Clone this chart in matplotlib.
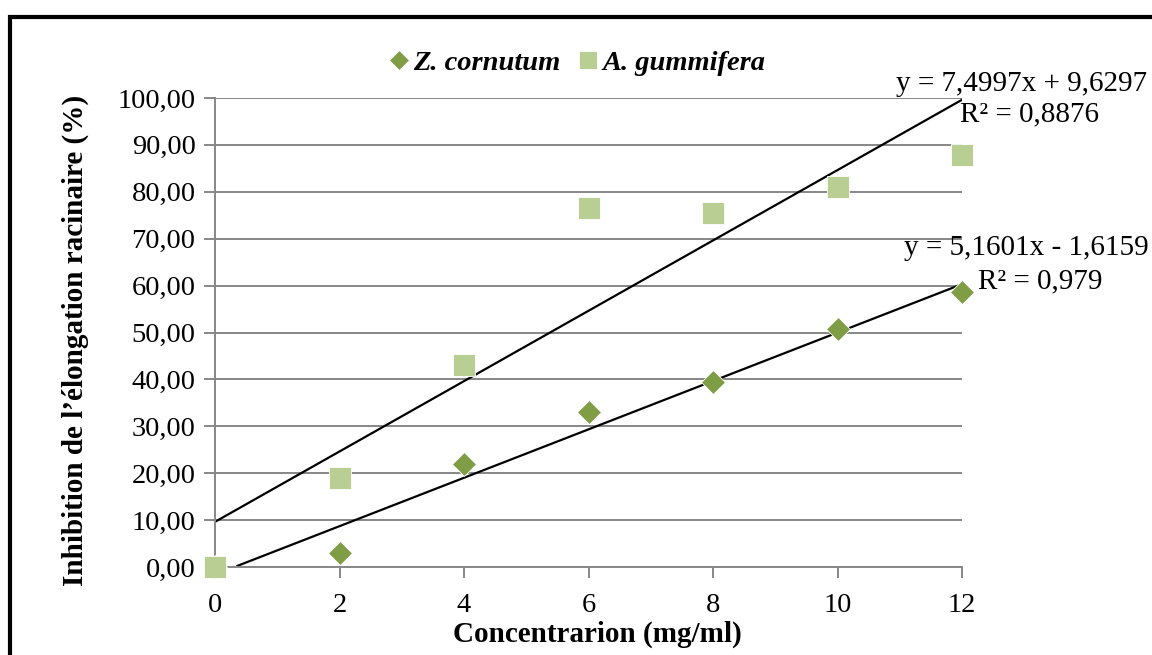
import matplotlib
matplotlib.use("Agg")
import matplotlib.pyplot as plt
from matplotlib.patches import Rectangle
import numpy as np

plt.rcParams['font.family'] = ['Liberation Serif', 'DejaVu Serif']

concentration = [0, 2, 4, 6, 8, 10, 12]
z_cornutum = [0.0, 3.0, 22.0, 33.0, 39.4, 50.7, 58.6]
a_gummifera = [0.0, 19.0, 43.1, 76.5, 75.5, 81.0, 87.8]
series_names = ["Z. cornutum", "A. gummifera"]
fit_z = (5.1601, -1.6159, 0.979)
fit_a = (7.4997, 9.6297, 0.8876)
yticks = [0, 10, 20, 30, 40, 50, 60, 70, 80, 90, 100]
xticks = [0, 2, 4, 6, 8, 10, 12]

c_dia = '#7F9D45'
c_sq = '#B8CE93'
grid_c = '#878787'

fig = plt.figure(figsize=(11.52, 6.55), dpi=100)
ax = fig.add_axes([215/1152, 1-567/655, (962-215)/1152, (567-98)/655])

ax.set_xlim(0, 12)
ax.set_ylim(0, 100)
ax.set_yticks(yticks)
ax.set_yticklabels([f"{v:.2f}".replace('.', ',') for v in yticks])
ax.set_xticks(xticks)
ax.set_xticklabels([str(v) for v in xticks])
ax.grid(axis='y', color=grid_c, linewidth=1.4)
ax.set_axisbelow(True)
for s in ['top', 'right']:
    ax.spines[s].set_visible(False)
for s in ['left', 'bottom']:
    ax.spines[s].set_color(grid_c)
    ax.spines[s].set_linewidth(1.4)
ax.tick_params(axis='both', direction='out', length=8, width=1.4, color=grid_c,
               labelsize=20.5)
ax.tick_params(axis='x', pad=11)
ax.tick_params(axis='y', pad=6)

# trendlines
xs = np.linspace(0, 12, 200)
yz = fit_z[0]*xs + fit_z[1]
mz = yz >= 0
ax.plot(xs[mz], yz[mz], color='black', linewidth=1.6, zorder=2)
ya = fit_a[0]*xs + fit_a[1]
ax.plot(xs, ya, color='black', linewidth=1.6, zorder=2)

ax.plot(concentration, z_cornutum, linestyle='none', marker='D', markersize=12.5,
        color=c_dia, markeredgecolor='white', markeredgewidth=0.6, clip_on=False,
        zorder=3, label=series_names[0])
ax.plot(concentration, a_gummifera, linestyle='none', marker='s', markersize=15.5,
        color=c_sq, markeredgecolor='white', markeredgewidth=0.6, clip_on=False,
        zorder=3, label=series_names[1])

ax.set_ylabel("Inhibition de l’élongation racinaire (%)", fontsize=21,
              fontweight='bold', ha='center', va='center')
ax.yaxis.set_label_coords((75-215)/747, (567-340)/469)
ax.set_xlabel("Concentrarion (mg/ml)", fontsize=21, fontweight='bold',
              ha='center', va='center')
ax.xaxis.set_label_coords((597-215)/747, (567-634)/469)

leg = fig.legend(loc='center', bbox_to_anchor=(575/1152, 1-63/655), ncol=2,
                 frameon=False, handletextpad=0.0, columnspacing=0.5,
                 handlelength=1.0, markerscale=0.8,
                 prop={'family': 'Liberation Serif', 'weight': 'bold',
                       'style': 'italic', 'size': 20.5})

fig.text(1147/1152, 1-84/655, f"y = {fit_a[0]:.4f}x + {fit_a[1]:.4f}".replace('.', ','),
         ha='right', va='center', fontsize=21)
fig.text(1030/1152, 1-114/655, f"R² = {fit_a[2]}".replace('.', ','),
         ha='center', va='center', fontsize=21)
fig.text(1149/1152, 1-248/655, f"y = {fit_z[0]:.4f}x - {abs(fit_z[1]):.4f}".replace('.', ','),
         ha='right', va='center', fontsize=21)
fig.text(1040/1152, 1-281/655, f"R² = {fit_z[2]}".replace('.', ','),
         ha='center', va='center', fontsize=21)

fig.patches.append(Rectangle((10/1152, -0.1), 1.2, 1-17/655+0.1, transform=fig.transFigure,
                             fill=False, edgecolor='black', linewidth=3))

fig.savefig("out.png", dpi=100)
